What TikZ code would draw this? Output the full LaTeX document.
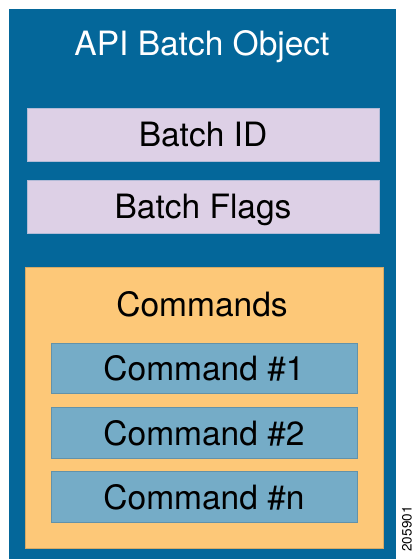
\documentclass[tikz,border=0pt]{standalone}
\usepackage{fontspec}
\setmainfont{TeX Gyre Heros}
\usepackage{tikz}
\usetikzlibrary{positioning}

\definecolor{objblue}{HTML}{04679A}
\definecolor{lavender}{HTML}{DDD0E6}
\definecolor{cmdorange}{HTML}{FDC878}
\definecolor{cmdblue}{HTML}{75ACC7}

\begin{document}
\begin{tikzpicture}[x=1pt, y=1pt,
  box/.style={rectangle, inner sep=0pt, line width=0.6pt, text height=24.3pt, text depth=0pt,
    font=\fontsize{33.5}{40}\selectfont},
  fieldbox/.style={box, fill=lavender, draw=lavender!80!objblue, minimum width=352, minimum height=53},
  cmdbox/.style={box, fill=cmdblue, draw=cmdblue!85!black, minimum width=306, minimum height=50.5}]

\useasboundingbox (0,0) rectangle (414,559);

\node[rectangle, fill=objblue, minimum width=387, minimum height=550, inner sep=0pt] (batchobj) at (202.5,275) {};
\node[box, white] (objtitle) at (202,515.5) {API Batch Object};

\node[fieldbox] (batchid) at (203,424.5) {Batch ID};
\node[fieldbox] (batchflags) at (203,352.5) {Batch Flags};

\node[box, fill=cmdorange, draw=cmdorange!85!black, minimum width=358, minimum height=281] (commands) at (204,151.5) {};
\node[box] (cmdtitle) at (202,254.5) {Commands};

\node[cmdbox] (cmdone) at (204,190.5) {Command \#1};
\node[cmdbox] (cmdtwo) at (204,126) {Command \#2};
\node[cmdbox] (cmdn) at (204,62) {Command \#n};

\node[rotate=90, inner sep=0pt, font=\fontsize{13.5}{16}\selectfont] (fignum) at (407,30) {205901};

\end{tikzpicture}
\end{document}
